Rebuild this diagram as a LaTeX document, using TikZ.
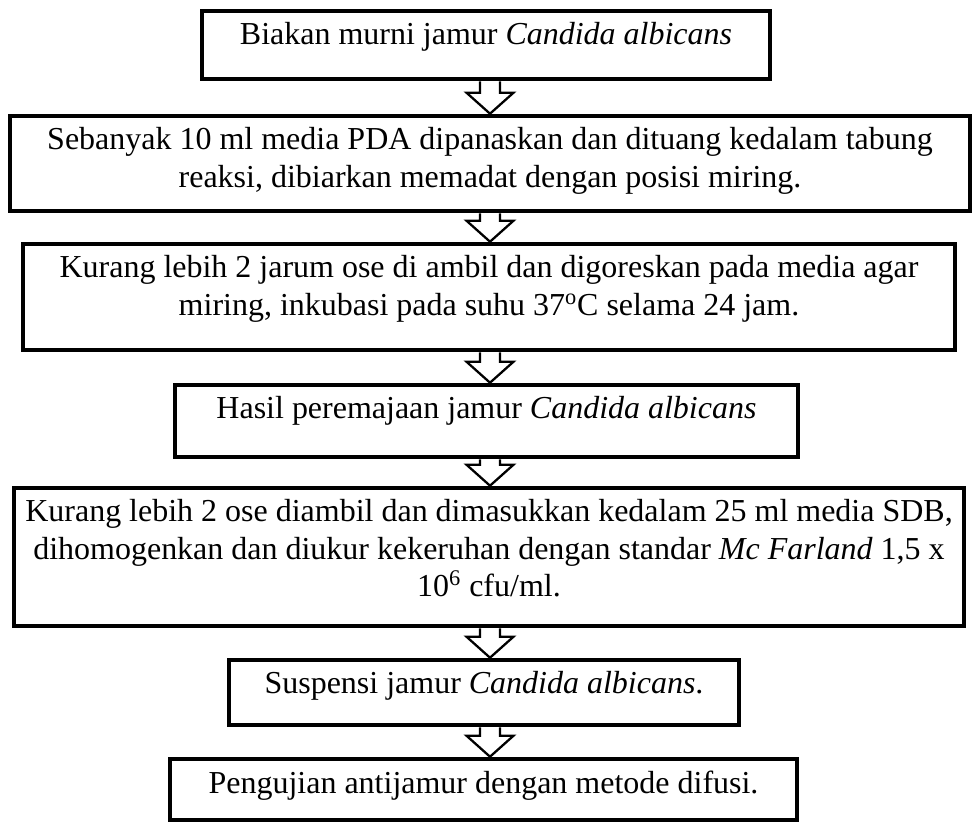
\documentclass[tikz,border=0pt]{standalone}
\usepackage{fontspec}
\setmainfont{Liberation Serif}
\usetikzlibrary{calc}

\begin{document}
\begin{tikzpicture}[
    stepbox/.style={draw, line width=2.6pt, inner sep=0pt},
    steptext/.style={anchor=north, align=center, inner sep=0pt, yshift=-0.27cm,
      font=\fontsize{18.2}{21.3}\selectfont},
    blockarrow/.style={line width=1.3pt, line join=miter, to path={
      let \p1=(\tikztostart), \p2=(\tikztotarget) in
      (\x1-0.2cm,\y1) -- (\x1-0.2cm,\y2+0.42cm) -- (\x1-0.47cm,\y2+0.42cm) -- (\x2,\y2)
      -- (\x1+0.47cm,\y2+0.42cm) -- (\x1+0.2cm,\y2+0.42cm) -- (\x1+0.2cm,\y1)}}
  ]

  \useasboundingbox (0,0) rectangle (19.48,-16.46);
  \coordinate (axis) at (9.80,0);

  % boxes
  \node[stepbox, minimum width=11.36cm, minimum height=1.36cm] (b1) at (9.72,-0.90) {};
  \node[stepbox, minimum width=19.20cm, minimum height=1.90cm] (b2) at (9.80,-3.27) {};
  \node[stepbox, minimum width=18.64cm, minimum height=2.12cm] (b3) at (9.78,-5.94) {};
  \node[stepbox, minimum width=12.46cm, minimum height=1.44cm] (b4) at (9.73,-8.42) {};
  \node[stepbox, minimum width=19.00cm, minimum height=2.76cm] (b5) at (9.78,-11.14) {};
  \node[stepbox, minimum width=10.20cm, minimum height=1.30cm] (b6) at (9.68,-13.85) {};
  \node[stepbox, minimum width=12.54cm, minimum height=1.22cm] (b7) at (9.67,-15.79) {};

  % texts
  \node[steptext] (t1) at (b1.north) {Biakan murni jamur \textit{Candida albicans}};
  \node[steptext] (t2) at (b2.north) {Sebanyak 10 ml media PDA dipanaskan dan dituang kedalam tabung\\
    reaksi, dibiarkan memadat dengan posisi miring.};
  \node[steptext] (t3) at (b3.north) {Kurang lebih 2 jarum ose di ambil dan digoreskan pada media agar\\
    miring, inkubasi pada suhu 37\textsuperscript{o}C selama 24 jam.};
  \node[steptext] (t4) at (b4.north) {Hasil peremajaan jamur \textit{Candida albicans}};
  \node[steptext] (t5) at (b5.north) {Kurang lebih 2 ose diambil dan dimasukkan kedalam 25 ml media SDB,\\
    dihomogenkan dan diukur kekeruhan dengan standar \textit{Mc Farland} 1,5 x\\
    10\textsuperscript{6} cfu/ml.};
  \node[steptext] (t6) at (b6.north) {Suspensi jamur \textit{Candida albicans}.};
  \node[steptext] (t7) at (b7.north) {Pengujian antijamur dengan metode difusi.};

  % hollow arrows between the boxes
  \draw[blockarrow] (b1.south -| axis) to (b2.north -| axis);
  \draw[blockarrow] (b2.south -| axis) to (b3.north -| axis);
  \draw[blockarrow] (b3.south -| axis) to (b4.north -| axis);
  \draw[blockarrow] (b4.south -| axis) to (b5.north -| axis);
  \draw[blockarrow] (b5.south -| axis) to (b6.north -| axis);
  \draw[blockarrow] (b6.south -| axis) to (b7.north -| axis);

\end{tikzpicture}
\end{document}
